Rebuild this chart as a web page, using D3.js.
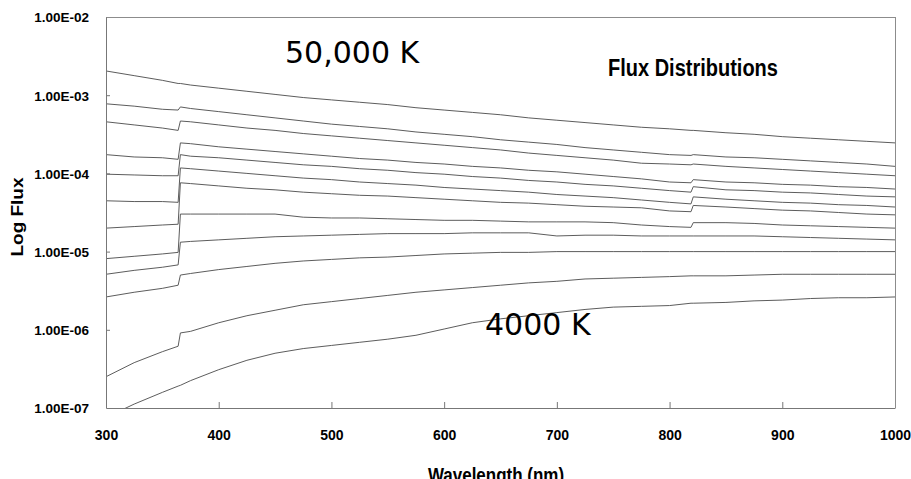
<html>
<head>
<title>Flux Distributions</title>
<script type="text/javascript" src="https://cdn.jsdelivr.net/npm/d3@7/dist/d3.min.js"></script>
<style type="text/css">
body { margin:0px; background:white; }
.bold { font-family:"Liberation Sans", Arial, sans-serif; font-weight:bold; fill:black; }
.big { font-family:"DejaVu Sans", Verdana, sans-serif; fill:black; }
.curve { fill:none; stroke:#4a4a4a; stroke-width:0.9px; }
</style>
</head>
<body>
<script>

  // wavelength grid (nm); 364/366 and 819/821 hold the Balmer and Paschen jumps
  var wavelengths = [300,325,350,364,366,375,400,425,450,475,500,525,550,575,600,625,650,675,700,725,750,775,800,819,821,850,875,900,925,950,975,1000];

  // log10 flux, top curve (50,000 K) down to bottom curve (4000 K)
  var logFlux01 = [-2.69,-2.75,-2.81,-2.85,-2.85,-2.87,-2.91,-2.95,-2.99,-3.03,-3.06,-3.09,-3.12,-3.16,-3.19,-3.22,-3.25,-3.29,-3.32,-3.35,-3.38,-3.41,-3.43,-3.45,-3.45,-3.48,-3.50,-3.53,-3.55,-3.57,-3.59,-3.61];
  var logFlux02 = [-3.11,-3.14,-3.18,-3.19,-3.15,-3.17,-3.21,-3.25,-3.29,-3.33,-3.37,-3.40,-3.43,-3.47,-3.50,-3.53,-3.57,-3.60,-3.63,-3.67,-3.70,-3.73,-3.76,-3.77,-3.76,-3.79,-3.80,-3.82,-3.84,-3.86,-3.88,-3.91];
  var logFlux03 = [-3.34,-3.38,-3.42,-3.45,-3.33,-3.34,-3.38,-3.42,-3.45,-3.49,-3.52,-3.55,-3.58,-3.61,-3.64,-3.67,-3.70,-3.74,-3.77,-3.80,-3.83,-3.87,-3.88,-3.89,-3.88,-3.91,-3.93,-3.95,-3.97,-3.99,-4.01,-4.03];
  var logFlux04 = [-3.76,-3.79,-3.80,-3.82,-3.61,-3.62,-3.66,-3.69,-3.72,-3.75,-3.78,-3.81,-3.83,-3.86,-3.88,-3.91,-3.93,-3.96,-3.98,-4.01,-4.04,-4.07,-4.11,-4.12,-4.08,-4.11,-4.12,-4.14,-4.15,-4.17,-4.18,-4.20];
  var logFlux05 = [-4.01,-4.02,-4.03,-4.03,-3.76,-3.78,-3.80,-3.83,-3.86,-3.89,-3.91,-3.94,-3.96,-3.99,-4.01,-4.04,-4.06,-4.09,-4.11,-4.14,-4.16,-4.19,-4.22,-4.24,-4.17,-4.21,-4.22,-4.24,-4.25,-4.27,-4.29,-4.30];
  var logFlux06 = [-4.35,-4.36,-4.36,-4.37,-3.93,-3.94,-3.97,-4.00,-4.03,-4.06,-4.08,-4.11,-4.13,-4.15,-4.18,-4.20,-4.22,-4.24,-4.27,-4.29,-4.31,-4.34,-4.37,-4.39,-4.30,-4.33,-4.35,-4.37,-4.38,-4.40,-4.41,-4.43];
  var logFlux07 = [-4.70,-4.68,-4.66,-4.65,-4.12,-4.13,-4.16,-4.19,-4.21,-4.24,-4.26,-4.28,-4.29,-4.31,-4.33,-4.35,-4.37,-4.38,-4.40,-4.42,-4.43,-4.44,-4.48,-4.49,-4.41,-4.43,-4.45,-4.47,-4.48,-4.50,-4.52,-4.53];
  var logFlux08 = [-5.09,-5.06,-5.03,-5.01,-4.52,-4.52,-4.52,-4.52,-4.52,-4.56,-4.57,-4.57,-4.58,-4.59,-4.60,-4.60,-4.61,-4.62,-4.62,-4.62,-4.63,-4.66,-4.68,-4.69,-4.63,-4.63,-4.64,-4.66,-4.67,-4.68,-4.69,-4.70];
  var logFlux09 = [-5.29,-5.24,-5.20,-5.17,-4.88,-4.87,-4.85,-4.83,-4.81,-4.80,-4.79,-4.78,-4.77,-4.77,-4.77,-4.76,-4.76,-4.76,-4.80,-4.79,-4.79,-4.80,-4.80,-4.80,-4.80,-4.80,-4.80,-4.81,-4.82,-4.83,-4.84,-4.85];
  var logFlux10 = [-5.58,-5.52,-5.47,-5.43,-5.30,-5.28,-5.23,-5.19,-5.15,-5.12,-5.10,-5.08,-5.07,-5.05,-5.03,-5.02,-5.01,-5.01,-5.00,-5.00,-5.00,-5.00,-5.00,-5.00,-5.00,-5.00,-5.00,-5.00,-5.00,-5.00,-5.00,-5.00];
  var logFlux11 = [-6.60,-6.42,-6.28,-6.21,-6.04,-6.02,-5.91,-5.82,-5.75,-5.68,-5.64,-5.60,-5.56,-5.52,-5.49,-5.46,-5.43,-5.40,-5.38,-5.35,-5.34,-5.33,-5.32,-5.31,-5.31,-5.31,-5.30,-5.29,-5.29,-5.29,-5.29,-5.29];
  var logFlux12 = [-7.12,-6.95,-6.80,-6.72,-6.71,-6.65,-6.51,-6.39,-6.30,-6.24,-6.20,-6.16,-6.12,-6.07,-5.99,-5.91,-5.86,-5.82,-5.78,-5.74,-5.71,-5.70,-5.69,-5.66,-5.66,-5.65,-5.63,-5.62,-5.60,-5.59,-5.59,-5.58];

  var xTicks = [300,400,500,600,700,800,900,1000];
  var yTicks = [1e-7,1e-6,1e-5,1e-4,1e-3,1e-2];
  var yTickLabels = ["1.00E-07","1.00E-06","1.00E-05","1.00E-04","1.00E-03","1.00E-02"];

  var curves = [logFlux01,logFlux02,logFlux03,logFlux04,logFlux05,logFlux06,
                logFlux07,logFlux08,logFlux09,logFlux10,logFlux11,logFlux12];

  var W = 911, H = 479,
      plotL = 106, plotR = 895, plotT = 17, plotB = 408;

  var svg = d3.select("body").append("svg").attr("width",W).attr("height",H);

  var x = d3.scaleLinear().domain([300,1000]).range([plotL,plotR]);
  var y = d3.scaleLog().domain([1e-7,1e-2]).range([plotB,plotT]);

  svg.append("clipPath").attr("id","plotclip").append("rect")
    .attr("x",plotL).attr("y",plotT).attr("width",plotR-plotL).attr("height",plotB-plotT);

  var line = d3.line()
    .x(function(d,i){ return x(wavelengths[i]); })
    .y(function(d){ return y(Math.pow(10,d)); });

  svg.append("g").attr("clip-path","url(#plotclip)")
    .selectAll("path").data(curves).enter().append("path")
    .attr("class","curve").attr("d",line);

  // frame top / right
  svg.append("line").attr("x1",plotL).attr("x2",plotR).attr("y1",plotT+0.5).attr("y2",plotT+0.5).attr("stroke","#8c8c8c");
  svg.append("line").attr("x1",plotR+0.5).attr("x2",plotR+0.5).attr("y1",plotT).attr("y2",plotB).attr("stroke","#8c8c8c");

  var yAxis = svg.append("g").attr("transform","translate("+plotL+",0)")
    .call(d3.axisLeft(y).tickValues(yTicks).tickFormat(function(d,i){ return yTickLabels[i]; })
      .tickSize(-4).tickSizeOuter(0).tickPadding(17));
  yAxis.selectAll("text").attr("class","bold").style("font-size","13.5px").attr("dy","0.36em");

  var xAxis = svg.append("g").attr("transform","translate(0,"+plotB+")")
    .call(d3.axisBottom(x).tickValues(xTicks).tickFormat(d3.format("d"))
      .tickSize(-6).tickSizeOuter(0).tickPadding(22));
  xAxis.selectAll("text").attr("class","bold").style("font-size","14px");
  // no inner tick at the ends of the axes
  xAxis.selectAll(".tick line").filter(function(d){ return d==300 || d==1000; }).remove();
  yAxis.selectAll(".tick line").filter(function(d){ return d==1e-7 || d==1e-2; }).remove();

  svg.selectAll(".domain").attr("stroke","#777");
  svg.selectAll(".tick line").attr("stroke","#777");

  svg.append("text").attr("class","bold").text("Log Flux").style("font-size","16.5px")
    .attr("text-anchor","middle").attr("transform","translate(23,217) rotate(-90) scale(1.15,1)");

  svg.append("text").attr("class","bold").text("Wavelength (nm)").style("font-size","17px")
    .attr("text-anchor","middle").attr("transform","translate(496,482) scale(1,1.15)");

  svg.append("text").attr("class","bold").text("Flux Distributions").style("font-size","20px")
    .attr("transform","translate(608,76) scale(1,1.15)");

  svg.append("text").attr("class","big").text("50,000 K").style("font-size","30px")
    .attr("x",285).attr("y",63);

  svg.append("text").attr("class","big").text("4000 K").style("font-size","30px")
    .attr("x",485).attr("y",335);

</script>
</body>
</html>
